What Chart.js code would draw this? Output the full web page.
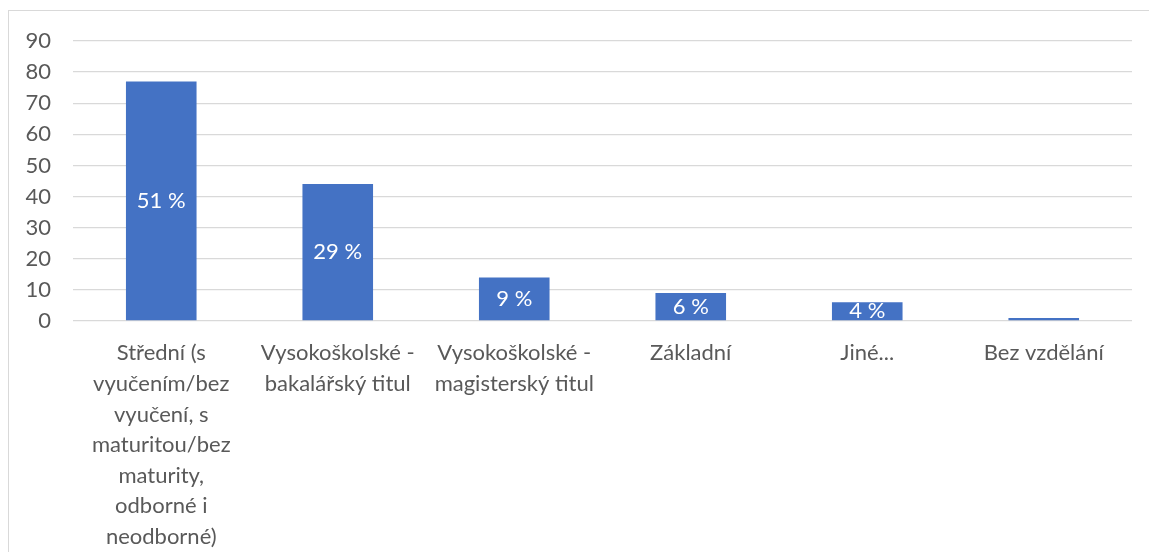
<!DOCTYPE html>
<html>
<head>
<meta charset="utf-8">
<script src="https://cdn.jsdelivr.net/npm/chart.js@4"></script>
<style>
    body { margin: 0; background: #fff; }
    #wrap { position: relative; width: 1149px; height: 552px; overflow: hidden; }
    #frame { position: absolute; left: 8px; top: 10px; width: 1200px; height: 600px; border: 1px solid #d9d9d9; box-sizing: border-box; }
    #eduChart { position: absolute; left: 0; top: 0; }
</style>
</head>
<body>
<div id="wrap">
    <div id="frame"></div>
    <canvas id="eduChart" width="1149" height="552"></canvas>
</div>
<script>
// Kategorie (víceřádkové popisky jako v originále)
const categories = [
    ['Střední (s', 'vyučením/bez', 'vyučení, s', 'maturitou/bez', 'maturity,', 'odborné i', 'neodborné)'],
    ['Vysokoškolské -', 'bakalářský titul'],
    ['Vysokoškolské -', 'magisterský titul'],
    ['Základní'],
    ['Jiné...'],
    ['Bez vzdělání']
];
const counts = [77, 44, 14, 9, 6, 1];
const percentLabels = ['51 %', '29 %', '9 %', '6 %', '4 %', ''];
const yTicks = [0, 10, 20, 30, 40, 50, 60, 70, 80, 90];

const fontFamily = 'Lato, "Open Sans", sans-serif';
const textColor = '#595959';

// Popisky hodnot uprostřed sloupců
const barLabels = {
    id: 'barLabels',
    afterDatasetsDraw(chart) {
        const ctx = chart.ctx;
        const meta = chart.getDatasetMeta(0);
        ctx.save();
        ctx.fillStyle = '#ffffff';
        ctx.font = '22px ' + fontFamily;
        ctx.textAlign = 'center';
        ctx.textBaseline = 'middle';
        meta.data.forEach((bar, i) => {
            if (!percentLabels[i]) return;
            ctx.fillText(percentLabels[i], bar.x, (bar.y + bar.base) / 2);
        });
        ctx.restore();
    }
};

new Chart(document.getElementById('eduChart'), {
    type: 'bar',
    data: {
        labels: categories,
        datasets: [{
            data: counts,
            backgroundColor: '#4472c4',
            borderWidth: 0,
            barPercentage: 0.4,
            categoryPercentage: 1
        }]
    },
    options: {
        responsive: false,
        animation: false,
        layout: { padding: { left: 0, top: 41, right: 17, bottom: 0 } },
        plugins: { legend: { display: false }, tooltip: { enabled: false } },
        scales: {
            x: {
                grid: { display: false, drawTicks: false },
                border: { display: false },
                ticks: {
                    color: textColor,
                    font: { family: fontFamily, size: 22, lineHeight: 1.39 },
                    padding: 17,
                    maxRotation: 0,
                    autoSkip: false
                },
                afterFit(scale) { scale.height = 231; }
            },
            y: {
                min: 0,
                max: 90,
                afterBuildTicks(scale) { scale.ticks = yTicks.map(v => ({ value: v })); },
                grid: { color: '#d9d9d9', lineWidth: 1.3, drawTicks: false },
                border: { display: false },
                ticks: {
                    color: textColor,
                    font: { family: fontFamily, size: 22 },
                    padding: 22
                },
                afterFit(scale) { scale.width = 73; }
            }
        }
    },
    plugins: [barLabels]
});
</script>
</body>
</html>
